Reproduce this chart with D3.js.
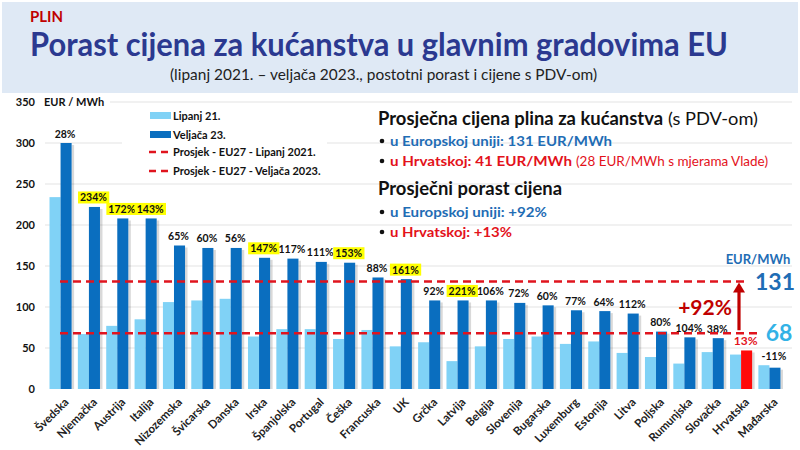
<!DOCTYPE html>
<html>
<head>
<meta charset="utf-8">
<script src="https://cdn.jsdelivr.net/npm/d3@7"></script>
<style>
  html, body { margin: 0; padding: 0; background: #fff; }
  svg { display: block; font-family: Lato, "Open Sans", sans-serif; }
</style>
</head>
<body>
<svg id="chart" width="800" height="450"></svg>
<script>
// ---- DATA ----
const categories = ["Švedska","Njemačka","Austrija","Italija","Nizozemska","Švicarska","Danska","Irska","Španjolska","Portugal","Češka","Francuska","UK","Grčka","Latvija","Belgija","Slovenija","Bugarska","Luxemburg","Estonija","Litva","Poljska","Rumunjska","Slovačka","Hrvatska","Mađarska"];
const lipanj21 = [234,67,77,85,106,108,110,64,73,73,61,72,52,57,34,52,61,64,55,58,44,39,31,45,42,29];
const veljaca23 = [300,222,208,208,175,172,172,160,159,155,154,136,134,108,108,108,105,102,96,95,92,70,63,62,47,26];
const porastLabels = ["28%","234%","172%","143%","65%","60%","56%","147%","117%","111%","153%","88%","161%","92%","221%","106%","72%","60%","77%","64%","112%","80%","104%","38%","13%","-11%"];
const highlighted = ["Njemačka","Austrija","Italija","Irska","Češka","UK","Latvija"];
const focusCountry = "Hrvatska";
const yTicks = [0,50,100,150,200,250,300,350];
const seriesNames = ["Lipanj 21.","Veljača 23."];
const avgNames = ["Prosjek - EU27 - Lipanj 2021.","Prosjek - EU27 - Veljača 2023."];
const avgValues = [68,131];
const avgGrowth = "+92%";

// ---- COLOURS ----
const cLight = "#80d2f6", cDark = "#0a6ebf", cRed = "#ff0a0a", cDash = "#e0141e";
const cBlueTxt = "#1f6db5", cRedTxt = "#e3121b", cNavy = "#2b3990";

const svg = d3.select("#chart");
svg.append("rect").attr("width",800).attr("height",450).attr("fill","#fff");

// Header band
svg.append("rect").attr("x",2).attr("y",2).attr("width",796).attr("height",91).attr("fill","#dfe9f5");
svg.append("text").attr("x",30).attr("y",22).attr("fill","#c00000")
  .attr("font-size",15).attr("font-weight","bold").text("PLIN");
svg.append("text").attr("x",30).attr("y",56).attr("fill",cNavy)
  .attr("font-size",32).attr("font-weight","bold")
  .attr("textLength",698).attr("lengthAdjust","spacingAndGlyphs")
  .text("Porast cijena za kućanstva u glavnim gradovima EU");
svg.append("text").attr("x",170).attr("y",80).attr("fill","#222")
  .attr("font-size",16)
  .attr("textLength",427).attr("lengthAdjust","spacingAndGlyphs")
  .text("(lipanj 2021. – veljača 2023., postotni porast i cijene s PDV-om)");

// ---- SCALES ----
const x0 = d3.scaleBand().domain(categories).range([41,789]).paddingInner(0.22).paddingOuter(0.3);
const x1 = d3.scaleBand().domain(seriesNames).range([0, x0.bandwidth()]);
const y = d3.scaleLinear().domain([0,350]).range([389,102]);

// gridlines
const grid = svg.append("g");
grid.selectAll("line").data(yTicks.filter(d=>d>0)).join("line")
  .attr("x1",45).attr("x2",792)
  .attr("y1",d=>y(d)).attr("y2",d=>y(d))
  .attr("stroke","#e3e3e3").attr("stroke-width",1);

// y axis
const yAxis = svg.append("g").attr("transform","translate(35,0)")
  .call(d3.axisLeft(y).tickValues(yTicks).tickSize(0).tickPadding(0));
yAxis.select(".domain").remove();
yAxis.selectAll("text").attr("font-size",11).attr("font-weight","bold")
  .attr("fill","#111").attr("font-family","Lato, sans-serif");
// white behind unit label
svg.append("rect").attr("x",38).attr("y",95).attr("width",72).attr("height",14).attr("fill","#fff");
svg.append("text").attr("x",44).attr("y",y(350)+4).attr("font-size",11).attr("font-weight","bold")
  .attr("fill","#111").text("EUR / MWh");

// legend background
svg.append("rect").attr("x",122).attr("y",106).attr("width",205).attr("height",74).attr("fill","#fff");

// ---- BARS ----
const groups = svg.append("g").selectAll("g").data(categories).join("g")
  .attr("transform",d=>`translate(${x0(d)},0)`);

// shadows for dark bars
groups.append("rect")
  .attr("x",(d)=>x1(seriesNames[1])+x1.bandwidth())
  .attr("y",(d,i)=>y(veljaca23[i])+2)
  .attr("width",2.5)
  .attr("height",(d,i)=>y(0)-y(veljaca23[i])-2)
  .attr("fill","#000").attr("opacity",0.15);

groups.append("rect")
  .attr("x",x1(seriesNames[0]))
  .attr("y",(d,i)=>y(lipanj21[i]))
  .attr("width",x1.bandwidth())
  .attr("height",(d,i)=>y(0)-y(lipanj21[i]))
  .attr("fill",cLight);

groups.append("rect")
  .attr("x",x1(seriesNames[1]))
  .attr("y",(d,i)=>y(veljaca23[i]))
  .attr("width",x1.bandwidth())
  .attr("height",(d,i)=>y(0)-y(veljaca23[i]))
  .attr("fill",d=>d===focusCountry?cRed:cDark);

// ---- AVERAGE LINES ----
const avgExtent = [[60,760],[60,747]];
svg.append("g").selectAll("line").data(avgValues).join("line")
  .attr("x1",(d,i)=>avgExtent[i][0]).attr("x2",(d,i)=>avgExtent[i][1])
  .attr("y1",d=>y(d)).attr("y2",d=>y(d))
  .attr("stroke",cDash).attr("stroke-width",2.5).attr("stroke-dasharray","8,5");

// ---- PERCENT LABELS ----
const lbl = groups.append("g");
lbl.each(function(d,i){
  const g = d3.select(this);
  const cx = x1(seriesNames[1]) + x1.bandwidth()/2 - 1;
  const top = y(Math.max(veljaca23[i], lipanj21[i]));
  const isFocus = d===focusCountry;
  const t = g.append("text").attr("x",cx).attr("y",top-5.5)
    .attr("text-anchor","middle").attr("font-size",isFocus?12:10.5).attr("font-weight","bold")
    .attr("fill",isFocus?cRedTxt:"#111").text(porastLabels[i]);
  if (highlighted.includes(d)) {
    const bb = t.node().getBBox();
    g.insert("rect","text").attr("x",bb.x-2).attr("y",top-15.5)
      .attr("width",bb.width+4).attr("height",12).attr("fill","#ffff00");
  }
});

// ---- X AXIS LABELS ----
svg.append("g").selectAll("text").data(categories).join("text")
  .attr("transform",d=>`translate(${x0(d)+x0.bandwidth()/2+3},397) rotate(-45)`)
  .attr("text-anchor","end").attr("dy","0.72em")
  .attr("font-size",11.5).attr("font-weight","bold").attr("fill","#222")
  .text(d=>d);

// ---- LEGEND ----
const leg = svg.append("g");
[0,1].forEach(i=>{
  const yy = 112 + i*19;
  leg.append("rect").attr("x",150).attr("y",yy).attr("width",21).attr("height",7)
    .attr("fill",i===0?cLight:cDark);
  leg.append("text").attr("x",173).attr("y",yy+7.5).attr("font-size",11).attr("font-weight","bold")
    .attr("fill","#111").text(seriesNames[i]);
});
[0,1].forEach(i=>{
  const yy = 152 + i*19;
  leg.append("line").attr("x1",149).attr("x2",170).attr("y1",yy).attr("y2",yy)
    .attr("stroke",cDash).attr("stroke-width",2.5).attr("stroke-dasharray","7,5");
  leg.append("text").attr("x",173).attr("y",yy+4).attr("font-size",11).attr("font-weight","bold")
    .attr("fill","#111").text(avgNames[i]);
});

// ---- TEXT BOX ----
const tb = svg.append("g");
function line(xx, yy, size, weight, color, str, len) {
  const t = tb.append("text").attr("x",xx).attr("y",yy).attr("font-size",size)
    .attr("font-weight",weight).attr("fill",color).text(str);
  if (len) t.attr("textLength",len).attr("lengthAdjust","spacingAndGlyphs");
  return t;
}
function bullet(yy) {
  tb.append("circle").attr("cx",382).attr("cy",yy-5).attr("r",2.3).attr("fill","#111");
}
line(378,125,18,"bold","#111","Prosječna cijena plina za kućanstva",285);
line(668,125,18,"normal","#111","(s PDV-om)",90);
bullet(146);
line(390,146,14,"bold",cBlueTxt,"u Europskoj uniji: 131 EUR/MWh",222);
bullet(166);
line(390,166,14,"bold",cRedTxt,"u Hrvatskoj: 41 EUR/MWh",182);
line(576,166,12.5,"normal",cRedTxt,"(28 EUR/MWh s mjerama Vlade)",192);
line(378,195,18,"bold","#111","Prosječni porast cijena",184);
bullet(217);
line(390,217,14,"bold",cBlueTxt,"u Europskoj uniji: +92%",157);
bullet(237);
line(390,237,14,"bold",cRedTxt,"u Hrvatskoj: +13%",122);

// ---- RIGHT ANNOTATIONS ----
const ax = 739;
svg.append("line").attr("x1",ax).attr("x2",ax).attr("y1",y(avgValues[0])-3).attr("y2",y(avgValues[1])+9)
  .attr("stroke","#c00000").attr("stroke-width",3.2);
svg.append("path")
  .attr("d",`M${ax-6},${y(avgValues[1])+11} L${ax},${y(avgValues[1])+1} L${ax+6},${y(avgValues[1])+11} Z`)
  .attr("fill","#c00000");
svg.append("text").attr("x",705).attr("y",315).attr("text-anchor","middle")
  .attr("font-size",21).attr("font-weight","bold").attr("fill","#c00000").text(avgGrowth);
svg.append("text").attr("x",758).attr("y",264).attr("text-anchor","middle")
  .attr("font-size",13).attr("font-weight","bold").attr("fill",cBlueTxt).text("EUR/MWh");
svg.append("text").attr("x",775).attr("y",y(avgValues[1])+8).attr("text-anchor","middle")
  .attr("font-size",23).attr("font-weight","bold").attr("fill",cBlueTxt).text(avgValues[1]);
svg.append("text").attr("x",779).attr("y",y(avgValues[0])+8).attr("text-anchor","middle")
  .attr("font-size",23).attr("font-weight","bold").attr("fill","#33b2e6").text(avgValues[0]);
</script>
</body>
</html>
